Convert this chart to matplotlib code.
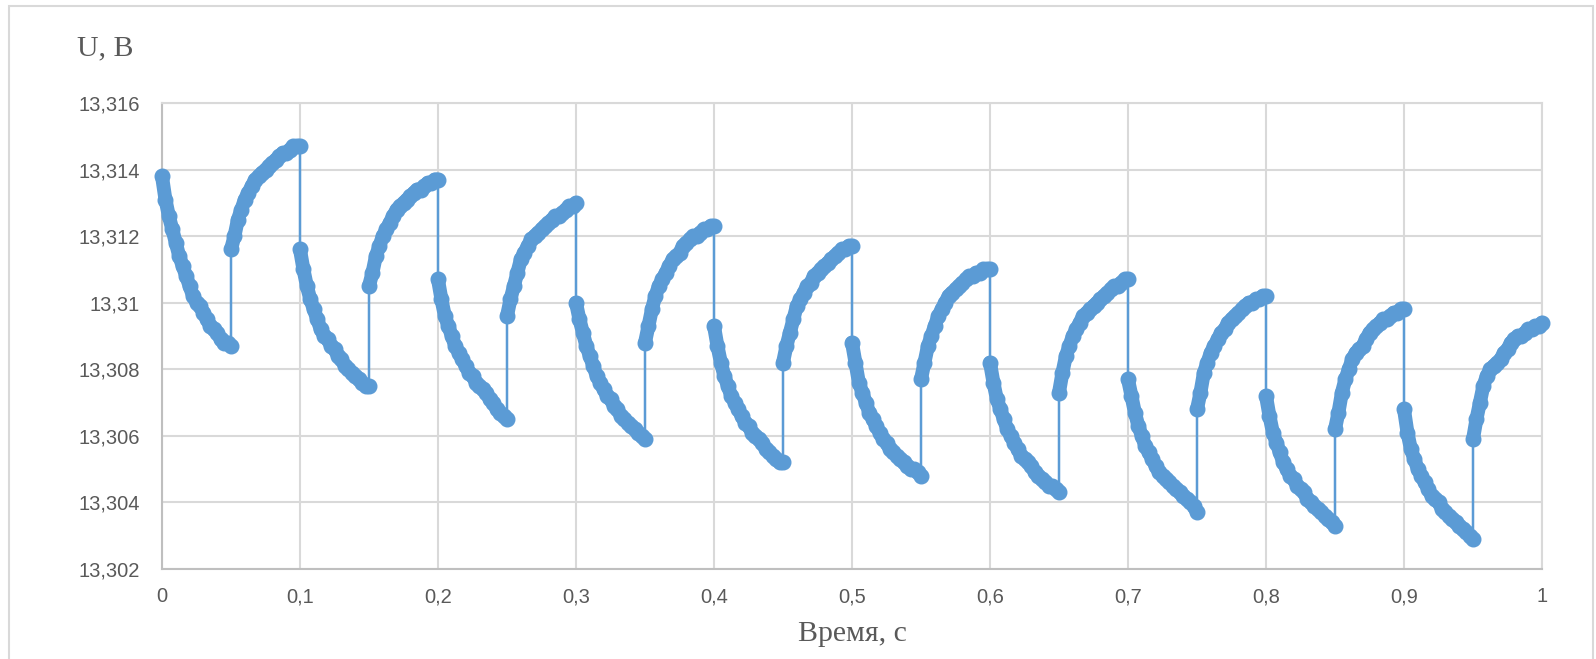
import numpy as np
import matplotlib
matplotlib.use("Agg")
import matplotlib.pyplot as plt
from matplotlib.patches import Rectangle

# sample offsets inside every half period (s)
half_offsets = [0.0, 0.0025, 0.005, 0.0075, 0.01, 0.0125, 0.015, 0.0175, 0.02, 0.0225,
                0.025, 0.0275, 0.03, 0.0325, 0.035, 0.0375, 0.04, 0.0425, 0.045, 0.0475, 0.05]
half_period = 0.05

# voltage, one list per half period (discharge / charge alternating)
u_segments = [
    [13.3138, 13.3131, 13.3126, 13.3122, 13.3118, 13.3114, 13.3111, 13.3108, 13.3105, 13.3102, 13.3100,
     13.3099, 13.3097, 13.3095, 13.3093, 13.3092, 13.3091, 13.3089, 13.3088, 13.3088, 13.3087],
    [13.3116, 13.3120, 13.3125, 13.3128, 13.3131, 13.3133, 13.3135, 13.3137, 13.3138, 13.3139, 13.3140,
     13.3141, 13.3142, 13.3143, 13.3144, 13.3145, 13.3145, 13.3146, 13.3147, 13.3147, 13.3147],
    [13.3116, 13.3110, 13.3105, 13.3101, 13.3098, 13.3095, 13.3092, 13.3090, 13.3089, 13.3087, 13.3086,
     13.3084, 13.3083, 13.3081, 13.3080, 13.3079, 13.3078, 13.3077, 13.3076, 13.3075, 13.3075],
    [13.3105, 13.3109, 13.3114, 13.3117, 13.3120, 13.3122, 13.3124, 13.3126, 13.3128, 13.3129, 13.3130,
     13.3131, 13.3132, 13.3133, 13.3134, 13.3134, 13.3135, 13.3136, 13.3136, 13.3137, 13.3137],
    [13.3107, 13.3101, 13.3096, 13.3093, 13.3090, 13.3087, 13.3085, 13.3083, 13.3081, 13.3079, 13.3078,
     13.3076, 13.3075, 13.3074, 13.3073, 13.3071, 13.3070, 13.3068, 13.3067, 13.3066, 13.3065],
    [13.3096, 13.3101, 13.3105, 13.3109, 13.3113, 13.3115, 13.3117, 13.3119, 13.3120, 13.3121, 13.3122,
     13.3123, 13.3124, 13.3125, 13.3126, 13.3126, 13.3127, 13.3128, 13.3129, 13.3129, 13.3130],
    [13.3100, 13.3095, 13.3091, 13.3087, 13.3084, 13.3081, 13.3078, 13.3076, 13.3074, 13.3072, 13.3071,
     13.3069, 13.3068, 13.3066, 13.3065, 13.3064, 13.3063, 13.3062, 13.3061, 13.3060, 13.3059],
    [13.3088, 13.3093, 13.3098, 13.3102, 13.3105, 13.3107, 13.3109, 13.3111, 13.3113, 13.3114, 13.3115,
     13.3117, 13.3118, 13.3119, 13.3120, 13.3120, 13.3121, 13.3122, 13.3122, 13.3123, 13.3123],
    [13.3093, 13.3087, 13.3082, 13.3078, 13.3075, 13.3072, 13.3070, 13.3068, 13.3066, 13.3064, 13.3063,
     13.3061, 13.3060, 13.3059, 13.3058, 13.3056, 13.3055, 13.3054, 13.3053, 13.3052, 13.3052],
    [13.3082, 13.3087, 13.3091, 13.3095, 13.3099, 13.3101, 13.3103, 13.3105, 13.3106, 13.3108, 13.3109,
     13.3110, 13.3111, 13.3112, 13.3113, 13.3114, 13.3115, 13.3116, 13.3116, 13.3117, 13.3117],
    [13.3088, 13.3082, 13.3076, 13.3073, 13.3070, 13.3067, 13.3065, 13.3063, 13.3061, 13.3059, 13.3058,
     13.3056, 13.3055, 13.3054, 13.3053, 13.3052, 13.3051, 13.3050, 13.3050, 13.3049, 13.3048],
    [13.3077, 13.3082, 13.3087, 13.3090, 13.3093, 13.3096, 13.3098, 13.3100, 13.3102, 13.3103, 13.3104,
     13.3105, 13.3106, 13.3107, 13.3108, 13.3108, 13.3109, 13.3109, 13.3110, 13.3110, 13.3110],
    [13.3082, 13.3076, 13.3071, 13.3068, 13.3065, 13.3062, 13.3060, 13.3058, 13.3056, 13.3054, 13.3053,
     13.3052, 13.3051, 13.3049, 13.3048, 13.3047, 13.3046, 13.3045, 13.3045, 13.3044, 13.3043],
    [13.3073, 13.3079, 13.3084, 13.3087, 13.3090, 13.3092, 13.3094, 13.3096, 13.3097, 13.3098, 13.3099,
     13.3100, 13.3101, 13.3102, 13.3103, 13.3104, 13.3105, 13.3105, 13.3106, 13.3107, 13.3107],
    [13.3077, 13.3072, 13.3067, 13.3063, 13.3060, 13.3057, 13.3055, 13.3053, 13.3051, 13.3049, 13.3048,
     13.3047, 13.3046, 13.3045, 13.3044, 13.3043, 13.3042, 13.3041, 13.3040, 13.3039, 13.3037],
    [13.3068, 13.3073, 13.3079, 13.3082, 13.3085, 13.3087, 13.3089, 13.3091, 13.3092, 13.3094, 13.3095,
     13.3096, 13.3097, 13.3098, 13.3099, 13.3100, 13.3100, 13.3101, 13.3101, 13.3102, 13.3102],
    [13.3072, 13.3066, 13.3061, 13.3058, 13.3055, 13.3052, 13.3050, 13.3048, 13.3047, 13.3045, 13.3044,
     13.3043, 13.3041, 13.3040, 13.3039, 13.3038, 13.3037, 13.3036, 13.3035, 13.3034, 13.3033],
    [13.3062, 13.3067, 13.3073, 13.3077, 13.3080, 13.3083, 13.3085, 13.3086, 13.3087, 13.3089, 13.3091,
     13.3092, 13.3093, 13.3094, 13.3095, 13.3095, 13.3096, 13.3097, 13.3097, 13.3098, 13.3098],
    [13.3068, 13.3061, 13.3056, 13.3053, 13.3050, 13.3048, 13.3046, 13.3044, 13.3042, 13.3041, 13.3040,
     13.3038, 13.3037, 13.3036, 13.3035, 13.3034, 13.3033, 13.3032, 13.3031, 13.3030, 13.3029],
    [13.3059, 13.3065, 13.3070, 13.3075, 13.3078, 13.3080, 13.3081, 13.3082, 13.3083, 13.3085, 13.3086,
     13.3088, 13.3089, 13.3090, 13.3090, 13.3091, 13.3092, 13.3092, 13.3093, 13.3093, 13.3094],
]

x_ticks = [0, 0.1, 0.2, 0.3, 0.4, 0.5, 0.6, 0.7, 0.8, 0.9, 1.0]
x_labels = ["0", "0,1", "0,2", "0,3", "0,4", "0,5", "0,6", "0,7", "0,8", "0,9", "1"]
y_ticks = [13.302, 13.304, 13.306, 13.308, 13.310, 13.312, 13.314, 13.316]
y_labels = ["13,302", "13,304", "13,306", "13,308", "13,31", "13,312", "13,314", "13,316"]

seg_t = [k * half_period + np.array(half_offsets) for k in range(len(u_segments))]
t = np.concatenate(seg_t)
u = np.concatenate([np.array(s) for s in u_segments])

blue = "#5B9BD5"
grid_c = "#D9D9D9"
text_c = "#595959"

fig = plt.figure(figsize=(15.96, 6.59), dpi=100)
ax = fig.add_axes([162 / 1596, 90 / 659, 1380 / 1596, 466 / 659])

# dense markers in the original merge into a thick band along each half period
for ts, us in zip(seg_t, u_segments):
    ax.plot(ts, us, color=blue, lw=10, solid_capstyle="round",
            solid_joinstyle="round", clip_on=False, zorder=3)
ax.plot(t, u, color=blue, lw=1.8, marker="o", markersize=10.5,
        markerfacecolor=blue, markeredgecolor=blue, clip_on=False, zorder=3)

ax.set_xlim(0, 1)
ax.set_ylim(13.302, 13.316)
ax.set_xticks(x_ticks)
ax.set_xticklabels(x_labels)
ax.set_yticks(y_ticks)
ax.set_yticklabels(y_labels)
ax.grid(True, color=grid_c, lw=1.5)
ax.set_axisbelow(True)
ax.tick_params(length=0, labelsize=14.5, labelcolor=text_c)
ax.tick_params(axis="y", pad=16)
ax.tick_params(axis="x", pad=13)
for lab in ax.get_xticklabels() + ax.get_yticklabels():
    lab.set_family("Liberation Sans")
for side in ["top", "right"]:
    ax.spines[side].set_color(grid_c)
    ax.spines[side].set_linewidth(1.5)
for side in ["left", "bottom"]:
    ax.spines[side].set_color("#BFBFBF")
    ax.spines[side].set_linewidth(1.5)

fig.text(77 / 1596, 1 - 55 / 659, "U, B", family="Liberation Serif", fontsize=21.5,
         color=text_c, ha="left", va="baseline")
fig.text(852 / 1596, 1 - 641 / 659, "Время, с", family="Liberation Serif", fontsize=21.5,
         color=text_c, ha="center", va="baseline")

# outer chart frame
fig.patches.append(Rectangle((9 / 1596, -0.05), 1584 / 1596, 1 - 6 / 659 + 0.05,
                             transform=fig.transFigure, fill=False,
                             edgecolor=grid_c, lw=1.5))

fig.savefig("out.png", dpi=100)
